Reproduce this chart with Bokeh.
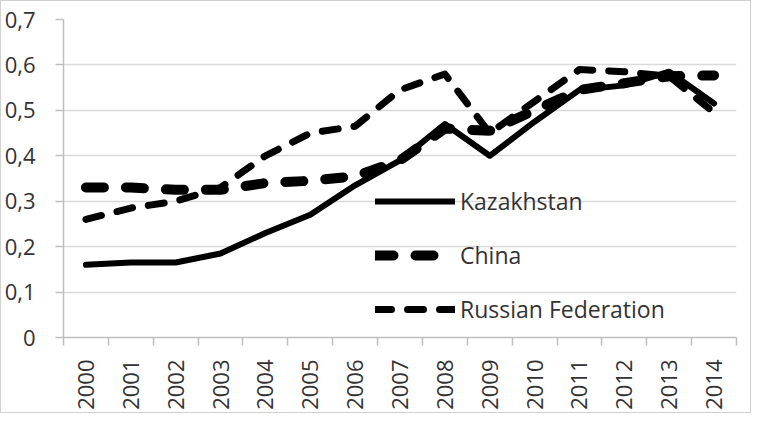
import math
from bokeh.plotting import figure
from bokeh.models import (FixedTicker, CustomJSTickFormatter, Legend, LegendItem, Range1d)
from bokeh.embed import file_html
from bokeh.resources import INLINE

years = list(range(2000, 2015))
kazakhstan = [0.16, 0.165, 0.165, 0.185, 0.23, 0.27, 0.335, 0.39, 0.47, 0.40, 0.475, 0.545, 0.555, 0.585, 0.515]
china = [0.33, 0.33, 0.325, 0.325, 0.34, 0.345, 0.355, 0.39, 0.46, 0.455, 0.50, 0.545, 0.56, 0.575, 0.577]
russia = [0.26, 0.285, 0.30, 0.33, 0.40, 0.45, 0.465, 0.545, 0.58, 0.45, 0.52, 0.59, 0.585, 0.575, 0.495]
y_ticks = [0, 0.1, 0.2, 0.3, 0.4, 0.5, 0.6, 0.7]

FONT = "Open Sans"
TXT = "#333333"
GRID = "#d9d9d9"
AX = "#bfbfbf"

p = figure(width=751, height=413, output_backend="svg", toolbar_location=None,
           x_range=Range1d(years[0] - 0.5, years[-1] + 0.5), y_range=Range1d(0, 0.7))
p.min_border_left = 62
p.min_border_right = 16
p.min_border_top = 18
p.min_border_bottom = 77
p.outline_line_color = None
p.background_fill_color = "white"
p.border_fill_color = "white"
p.styles = {"border": "1px solid #d0d0d0"}

p.xgrid.visible = False
p.ygrid.grid_line_color = GRID
p.ygrid.grid_line_width = 1.5

# y axis
p.yaxis.ticker = FixedTicker(ticks=y_ticks)
p.yaxis.formatter = CustomJSTickFormatter(code="return tick == 0 ? '0' : tick.toFixed(1).replace('.', ',');")
p.yaxis.axis_line_color = AX
p.yaxis.axis_line_width = 1.5
p.yaxis.major_tick_line_color = AX
p.yaxis.major_tick_line_width = 1.5
p.yaxis.major_tick_out = 8
p.yaxis.major_tick_in = 0
p.yaxis.minor_tick_line_color = None
p.yaxis.major_label_standoff = 20
p.yaxis.major_label_text_font = FONT
p.yaxis.major_label_text_font_size = "22px"
p.yaxis.major_label_text_color = TXT

# x axis
p.xaxis.ticker = FixedTicker(ticks=years, minor_ticks=[y - 0.5 for y in years] + [years[-1] + 0.5])
p.xaxis.axis_line_color = AX
p.xaxis.axis_line_width = 1.5
p.xaxis.major_tick_line_color = None
p.xaxis.major_tick_out = 0
p.xaxis.major_tick_in = 0
p.xaxis.minor_tick_line_color = AX
p.xaxis.minor_tick_line_width = 1.5
p.xaxis.minor_tick_out = 8
p.xaxis.minor_tick_in = 0
p.xaxis.major_label_orientation = math.pi / 2
p.xaxis.major_label_standoff = 14
p.xaxis.major_label_text_font = FONT
p.xaxis.major_label_text_font_size = "22px"
p.xaxis.major_label_text_color = TXT

r_k = p.line(years, kazakhstan, line_color="black", line_width=6, line_join="round", line_cap="round")
r_c = p.line(years, china, line_color="black", line_width=10, line_dash="18 22", line_join="round", line_cap="round")
r_r = p.line(years, russia, line_color="black", line_width=7, line_dash="16 16", line_join="round", line_cap="round")

legend = Legend(items=[LegendItem(label="Kazakhstan", renderers=[r_k]),
                       LegendItem(label="China", renderers=[r_c]),
                       LegendItem(label="Russian Federation", renderers=[r_r])],
                location=(312, 12), orientation="vertical")
legend.glyph_width = 80
legend.glyph_height = 20
legend.label_height = 20
legend.spacing = 22
legend.label_standoff = 5
legend.padding = 0
legend.margin = 0
legend.border_line_color = None
legend.background_fill_alpha = 0
legend.label_text_font = FONT
legend.label_text_font_size = "23px"
legend.label_text_color = TXT
p.add_layout(legend, "center")

open("out.html", "w").write(file_html(p, INLINE))
